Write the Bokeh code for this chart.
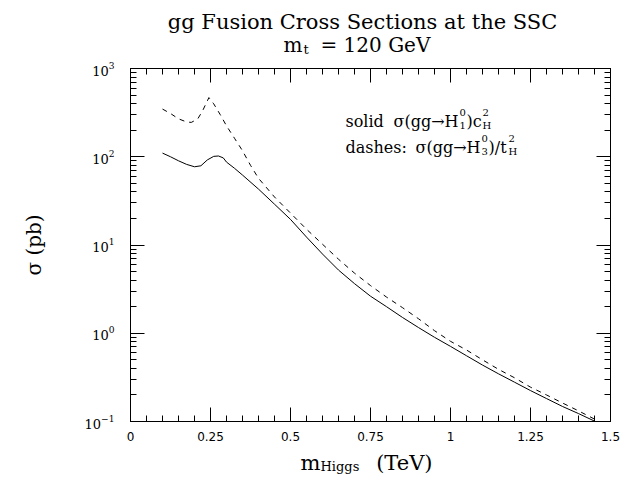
import math
from bokeh.plotting import figure
from bokeh.layouts import column
from bokeh.models import (LogAxis, LinearAxis, FixedTicker, Label, Range1d,
                          CustomJSTickFormatter, ColumnDataSource)
from bokeh.embed import file_html
from bokeh.resources import INLINE

# ---------------- data ----------------
title_line1 = "gg Fusion Cross Sections at the SSC"
title_line2 = "= 120 GeV"
y_label = "\u03c3 (pb)"

# solid: sigma(gg -> H1^0) c_H^2   [pb] vs m_Higgs [TeV]
solid_m = [0.10, 0.125, 0.15, 0.175, 0.20, 0.22, 0.24, 0.26, 0.275, 0.29, 0.30,
           0.325, 0.35, 0.40, 0.45, 0.50, 0.55, 0.60, 0.65, 0.70, 0.75, 0.80,
           0.85, 0.90, 0.95, 1.00, 1.05, 1.10, 1.15, 1.20, 1.25, 1.30, 1.35,
           1.40, 1.45]
solid_sigma = [110, 100, 90, 82, 77, 79, 92, 101, 102, 97, 87,
               74, 62, 43, 29, 19.5, 12.3, 7.9, 5.2, 3.65, 2.63, 2.0,
               1.51, 1.16, 0.90, 0.71, 0.556, 0.436, 0.347, 0.279, 0.224, 0.182, 0.148,
               0.123, 0.101]

# dashes: sigma(gg -> H3^0) / t_H^2   [pb]
dash_m = [0.10, 0.125, 0.15, 0.175, 0.19, 0.21, 0.225, 0.245, 0.26, 0.28, 0.30,
          0.325, 0.35, 0.375, 0.40, 0.45, 0.50, 0.55, 0.60, 0.65, 0.70, 0.75,
          0.80, 0.85, 0.90, 0.95, 1.00, 1.05, 1.10, 1.15, 1.20, 1.25, 1.30,
          1.35, 1.40, 1.46]
dash_sigma = [347, 309, 269, 248, 245, 268, 330, 468, 398, 302, 224,
              162, 117, 80, 57, 35, 23, 15.1, 10.2, 6.9, 4.8, 3.47,
              2.57, 1.95, 1.46, 1.07, 0.81, 0.646, 0.50, 0.39, 0.313, 0.245, 0.20,
              0.162, 0.132, 0.102]

x_ticks = [0, 0.25, 0.5, 0.75, 1.0, 1.25, 1.5]
x_tick_labels = ["0", "0.25", "0.5", "0.75", "1", "1.25", "1.5"]
y_ticks = [0.1, 1, 10, 100, 1000]

# ---------------- layout geometry (page pixels) ----------------
W, H = 624, 477
TOP_H = 60           # title strip
BOT_Y = 447          # x-label strip starts here
FL, FR, FT, FB = 130, 610, 68, 421   # frame left / right / top / bottom
DY = 6               # baseline correction for the text layout

# ---------------- main figure ----------------
p = figure(width=W, height=BOT_Y - TOP_H, x_range=Range1d(0, 1.5), y_range=Range1d(0.1, 1000),
           y_axis_type="log", output_backend="svg", toolbar_location=None,
           min_border_left=FL, min_border_right=W - FR, min_border_top=FT - TOP_H,
           min_border_bottom=BOT_Y - FB)
p.title.visible = False
p.grid.visible = False
p.outline_line_color = "black"
p.outline_line_width = 1
p.background_fill_color = "white"
p.border_fill_color = "white"

x_minor = [round(0.05 * i, 2) for i in range(31)]
y_minor = [m * 10.0 ** e for e in range(-1, 3) for m in range(2, 10)]

def style(ax):
    ax.axis_line_color = "black"
    ax.major_tick_line_color = "black"
    ax.minor_tick_line_color = "black"
    ax.major_tick_in = 14
    ax.major_tick_out = 0
    ax.minor_tick_in = 6
    ax.minor_tick_out = 0
    ax.major_label_text_color = "black"

xa = p.xaxis[0]
xa.ticker = FixedTicker(ticks=x_ticks, minor_ticks=x_minor)
xa.major_label_overrides = {t: l for t, l in zip(x_ticks, x_tick_labels)}
xa.major_label_text_font = "DejaVu Sans"
xa.major_label_text_font_size = "12px"
xa.major_label_standoff = 10
style(xa)

ya = p.yaxis[0]
ya.ticker = FixedTicker(ticks=y_ticks, minor_ticks=y_minor)
ya.major_label_text_font = "DejaVu Serif"
ya.major_label_text_font_size = "13px"
ya.major_label_standoff = 16
ya.axis_label = y_label
ya.axis_label_text_font = "DejaVu Serif"
ya.axis_label_text_font_size = "20px"
ya.axis_label_text_font_style = "normal"
ya.axis_label_text_color = "black"
ya.axis_label_standoff = 36
style(ya)

blank = CustomJSTickFormatter(code="return ''")
top = LinearAxis(ticker=FixedTicker(ticks=x_ticks, minor_ticks=x_minor), formatter=blank)
style(top)
top.major_label_text_font_size = "0px"
top.major_label_standoff = 0
p.add_layout(top, "above")
right = LogAxis(ticker=FixedTicker(ticks=y_ticks, minor_ticks=y_minor), formatter=blank)
style(right)
right.major_label_text_font_size = "0px"
right.major_label_standoff = 0
p.add_layout(right, "right")

src_s = ColumnDataSource(dict(x=solid_m, y=solid_sigma))
src_d = ColumnDataSource(dict(x=dash_m, y=dash_sigma))
p.line("x", "y", source=src_s, line_color="black", line_width=1)
p.line("x", "y", source=src_d, line_color="black", line_width=1, line_dash="5 5")

def lab(fig, text, x, y, size, align="left", units="screen"):
    fig.add_layout(Label(x=x, y=y, x_units=units, y_units=units, text=text,
                         text_font="DejaVu Serif", text_font_size=f"{size}px",
                         text_align=align, text_baseline="alphabetic", text_color="black"))

# legend inside the frame (page coords -> frame screen units)
def flab(text, x, y_img, size, align="left"):
    lab(p, text, x - FL, FB - (y_img - DY), size, align)

flab("solid", 345, 127, 16)
flab("\u03c3(gg\u2192H", 458, 127, 16, align="right")
flab("0", 459, 118, 10)
flab("1", 459, 131, 10)
flab(")c", 466, 127, 16)
flab("2", 482, 118, 10)
flab("H", 482, 131, 10)

flab("dashes:", 345, 153, 16)
flab("\u03c3(gg\u2192H", 480, 153, 16, align="right")
flab("0", 481, 144, 10)
flab("3", 481, 157, 10)
flab(")/t", 488, 153, 16)
flab("2", 508, 144, 10)
flab("H", 508, 157, 10)

# ---------------- strips above and below (frames aligned with the main frame) ----------------
def strip(h):
    f = figure(width=W, height=h, x_range=Range1d(FL, FR), y_range=Range1d(0, h),
               x_axis_type=None, y_axis_type=None, toolbar_location=None,
               output_backend="svg", min_border_left=FL, min_border_right=W - FR,
               min_border_top=0, min_border_bottom=0, outline_line_color=None)
    f.title.visible = False
    f.grid.visible = False
    return f

tf = strip(TOP_H)
def tlab(text, x, y_img, size, align="left"):
    lab(tf, text, x, TOP_H - (y_img - DY), size, align, units="data")

tlab(title_line1, 362, 27, 21, align="center")
tlab("m", 302, 50, 20, align="right")
tlab("t", 303, 55, 13)
tlab(title_line2, 320, 50, 20)

bf = strip(H - BOT_Y)
def blab(text, x, y_img, size, align="left"):
    lab(bf, text, x, H - (y_img - DY), size, align, units="data")

blab("m", 300, 468, 21)
blab("Higgs", 320, 472, 13)
blab("(TeV)", 432, 468, 21, align="right")

layout = column(tf, p, bf, spacing=0)
open("out.html", "w").write(file_html(layout, INLINE))
